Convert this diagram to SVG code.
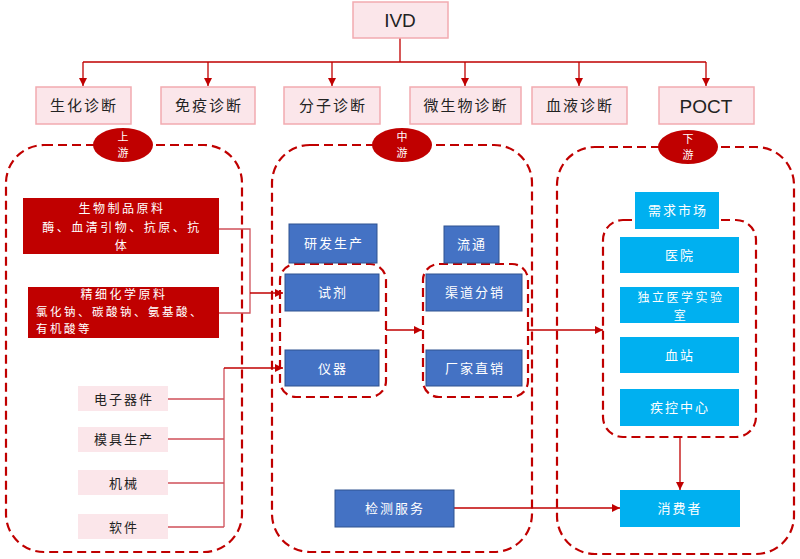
<svg xmlns="http://www.w3.org/2000/svg" width="800" height="559" viewBox="0 0 800 559">
<defs>
<marker id="ah" viewBox="0 0 10 10" refX="10" refY="5" markerWidth="8" markerHeight="8" markerUnits="userSpaceOnUse" orient="auto">
<path d="M0,0 L10,5 L0,10 Z" fill="#C00000"/>
</marker>
</defs>
<style>
.cat{fill:#FBE6EA;stroke:#F2AAB0;stroke-width:1.5}
.cattx{font-family:"Noto Sans CJK SC",sans-serif;font-size:15px;fill:#222;text-anchor:middle;letter-spacing:2px}
.lat{font-family:"Liberation Sans",Arial,sans-serif;font-size:19px;fill:#222;text-anchor:middle}
.dash{fill:none;stroke:#C00000;stroke-width:2.2;stroke-dasharray:9 5}
.ell{fill:#C00000}
.elltx{font-family:"Noto Sans CJK SC",sans-serif;font-size:11px;fill:#fff;text-anchor:middle}
.red{fill:#C00000}
.wt{font-family:"Noto Sans CJK SC",sans-serif;font-size:13px;fill:#fff;text-anchor:middle;letter-spacing:2px}
.wts{font-family:"Noto Sans CJK SC",sans-serif;font-size:12px;fill:#fff;text-anchor:middle;letter-spacing:2.5px}
.wtl{font-family:"Noto Sans CJK SC",sans-serif;font-size:11.5px;fill:#fff;letter-spacing:2.5px}
.blue{fill:#4472C4;stroke:#2F528F;stroke-width:1}
.cyan{fill:#00B0F0}
.pk{fill:#FBE6EA}
.bt{font-family:"Noto Sans CJK SC",sans-serif;font-size:13px;fill:#222;text-anchor:middle;letter-spacing:2px}
.ln{fill:none;stroke:#C00000;stroke-width:1.3}
.ln2{fill:none;stroke:#D0505A;stroke-width:1.3}
</style>

<g id="connectors">
<path class="ln" d="M400,38 V62 M83,62 H706"/>
<path class="ln" d="M83,62 V86" marker-end="url(#ah)"/>
<path class="ln" d="M208,62 V86" marker-end="url(#ah)"/>
<path class="ln" d="M332,62 V86" marker-end="url(#ah)"/>
<path class="ln" d="M465,62 V86" marker-end="url(#ah)"/>
<path class="ln" d="M579,62 V86" marker-end="url(#ah)"/>
<path class="ln" d="M706,62 V86" marker-end="url(#ah)"/>
<path class="ln2" d="M219,229 H250 V313 H219"/>
<path class="ln" d="M250,293 H283" marker-end="url(#ah)"/>
<path class="ln2" d="M168,399 H224 M168,439 H224 M168,483 H224 M168,527 H224 M224,527 V368"/>
<path class="ln" d="M224,368 H283" marker-end="url(#ah)"/>
<path class="ln" d="M386,330 H422" marker-end="url(#ah)"/>
<path class="ln" d="M528,330 H603" marker-end="url(#ah)"/>
<path class="ln" d="M454,508 H620" marker-end="url(#ah)"/>
<path class="ln" d="M680,437 V490" marker-end="url(#ah)"/>
</g>

<g id="ivd"><rect class="cat" x="353" y="2" width="95" height="36"/><text class="lat" x="400" y="27">IVD</text></g>
<g id="c1"><rect class="cat" x="36" y="87" width="95" height="37"/><text class="cattx" x="84" y="111">生化诊断</text></g>
<g id="c2"><rect class="cat" x="161" y="87" width="94" height="37"/><text class="cattx" x="209" y="111">免疫诊断</text></g>
<g id="c3"><rect class="cat" x="284" y="87" width="96" height="37"/><text class="cattx" x="333" y="111">分子诊断</text></g>
<g id="c4"><rect class="cat" x="410" y="87" width="111" height="37"/><text class="cattx" x="466" y="111">微生物诊断</text></g>
<g id="c5"><rect class="cat" x="532" y="87" width="95" height="37"/><text class="cattx" x="580" y="111">血液诊断</text></g>
<g id="c6"><rect class="cat" x="659" y="87" width="95" height="37"/><text class="lat" x="706" y="113">POCT</text></g>

<g id="upstream">
<rect class="dash" x="6" y="145" width="236" height="407" rx="38"/>
<ellipse class="ell" cx="123" cy="145" rx="30" ry="17"/>
<text class="elltx" x="123" y="141">上</text><text class="elltx" x="123" y="157">游</text>
</g>
<g id="midstream">
<rect class="dash" x="272" y="145" width="260" height="407" rx="38"/>
<ellipse class="ell" cx="402" cy="145" rx="30" ry="17"/>
<text class="elltx" x="402" y="141">中</text><text class="elltx" x="402" y="157">游</text>
</g>
<g id="downstream">
<rect class="dash" x="557" y="147" width="237" height="407" rx="38"/>
<ellipse class="ell" cx="688" cy="147" rx="30" ry="17"/>
<text class="elltx" x="688" y="143">下</text><text class="elltx" x="688" y="159">游</text>
</g>

<g id="bio"><rect class="red" x="23" y="198" width="196" height="56"/>
<text class="wts" x="122" y="213">生物制品原料</text>
<text class="wts" x="122" y="232">酶、血清引物、抗原、抗</text>
<text class="wts" x="122" y="250">体</text></g>
<g id="chem"><rect class="red" x="28" y="287" width="191" height="51"/>
<text class="wts" x="124" y="299">精细化学原料</text>
<text class="wtl" x="36" y="316">氯化钠、碳酸钠、氨基酸、</text>
<text class="wtl" x="36" y="333">有机酸等</text></g>

<g id="p1"><rect class="pk" x="78" y="386" width="90" height="25"/><text class="bt" x="124" y="404">电子器件</text></g>
<g id="p2"><rect class="pk" x="78" y="427" width="90" height="25"/><text class="bt" x="124" y="444">模具生产</text></g>
<g id="p3"><rect class="pk" x="78" y="470" width="90" height="25"/><text class="bt" x="124" y="488">机械</text></g>
<g id="p4"><rect class="pk" x="78" y="514" width="90" height="25"/><text class="bt" x="124" y="532">软件</text></g>

<g id="rd-group"><rect class="dash" x="280" y="264" width="106" height="133" rx="16"/></g>
<g id="rd"><rect class="blue" x="289" y="224" width="88" height="39"/><text class="wt" x="334" y="248">研发生产</text></g>
<g id="reagent"><rect class="blue" x="285" y="274" width="94" height="37"/><text class="wt" x="333" y="297">试剂</text></g>
<g id="instrument"><rect class="blue" x="285" y="350" width="94" height="36"/><text class="wt" x="333" y="373">仪器</text></g>

<g id="dist-group"><rect class="dash" x="423" y="264" width="105" height="133" rx="16"/></g>
<g id="dist"><rect class="blue" x="444" y="226" width="55" height="37"/><text class="wt" x="472" y="249">流通</text></g>
<g id="channel"><rect class="blue" x="426" y="274" width="96" height="37"/><text class="wt" x="475" y="297">渠道分销</text></g>
<g id="direct"><rect class="blue" x="426" y="350" width="96" height="36"/><text class="wt" x="475" y="373">厂家直销</text></g>

<g id="test"><rect class="blue" x="335" y="490" width="119" height="37"/><text class="wt" x="395" y="513">检测服务</text></g>

<g id="market-group"><rect class="dash" x="603" y="220" width="153" height="217" rx="20"/></g>
<g id="market"><rect class="cyan" x="635" y="192" width="84" height="37"/><text class="wt" x="678" y="215">需求市场</text></g>
<g id="hospital"><rect class="cyan" x="620" y="237" width="119" height="36"/><text class="wt" x="680" y="260">医院</text></g>
<g id="lab"><rect class="cyan" x="620" y="287" width="119" height="36"/><text class="wts" x="681" y="302">独立医学实验</text><text class="wts" x="681" y="320">室</text></g>
<g id="blood"><rect class="cyan" x="620" y="337" width="119" height="36"/><text class="wt" x="680" y="360">血站</text></g>
<g id="cdc"><rect class="cyan" x="620" y="389" width="119" height="37"/><text class="wt" x="680" y="412">疾控中心</text></g>
<g id="consumer"><rect class="cyan" x="620" y="490" width="120" height="37"/><text class="wt" x="680" y="513">消费者</text></g>
</svg>
